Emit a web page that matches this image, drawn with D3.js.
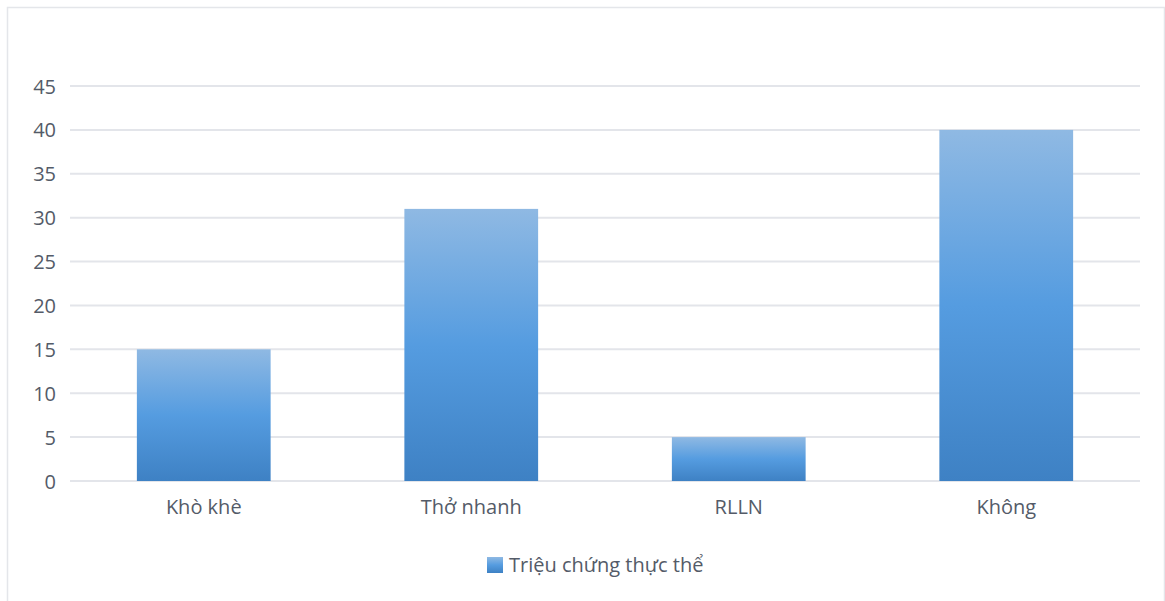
<!DOCTYPE html>
<html><head><meta charset="utf-8">
<script src="https://cdn.jsdelivr.net/npm/d3@7"></script>
<style>body{margin:0;background:#fff}svg{display:block}</style>
</head><body>
<svg id="c" width="1165" height="601"></svg>
<script>
const categories = ["Khò khè", "Thở nhanh", "RLLN", "Không"];
const values = [15, 31, 5, 40];
const yTicks = [0, 5, 10, 15, 20, 25, 30, 35, 40, 45];
const seriesName = "Triệu chứng thực thể";

const svg = d3.select("#c");
const font = "'Open Sans', sans-serif";
const textColor = "#545b68";

// frame
svg.append("path").attr("d", "M7.5,601 V7.5 H1164.5 V601")
  .attr("fill", "none").attr("stroke", "#e4e6ea").attr("stroke-width", 1.5);

const defs = svg.append("defs");
const grad = defs.append("linearGradient").attr("id", "g")
  .attr("x1", 0).attr("y1", 0).attr("x2", 0).attr("y2", 1);
grad.append("stop").attr("offset", "0%").attr("stop-color", "#8fb9e3");
grad.append("stop").attr("offset", "50%").attr("stop-color", "#559ce0");
grad.append("stop").attr("offset", "100%").attr("stop-color", "#3e81c4");

const x = d3.scaleBand().domain(categories).range([70, 1140]).paddingInner(0.5).paddingOuter(0.25);
const y = d3.scaleLinear().domain([0, 45]).range([481, 86]);

// gridlines
svg.append("g").selectAll("line").data(yTicks).join("line")
  .attr("x1", 70).attr("x2", 1140)
  .attr("y1", d => y(d)).attr("y2", d => y(d))
  .attr("stroke", "#e3e5ea").attr("stroke-width", 2);

// y axis labels
const yAxis = d3.axisLeft(y).tickValues(yTicks).tickSize(0).tickPadding(0);
const yg = svg.append("g").attr("transform", "translate(56,0)").call(yAxis);
yg.select(".domain").remove();
yg.selectAll("text").attr("font-family", font).attr("font-size", 20)
  .attr("fill", textColor).attr("text-anchor", "end").attr("dy", "0.35em");

// bars
svg.append("g").selectAll("rect").data(values).join("rect")
  .attr("x", (d, i) => x(categories[i]))
  .attr("width", x.bandwidth())
  .attr("y", d => y(d))
  .attr("height", d => y(0) - y(d))
  .attr("fill", "url(#g)");

// x axis labels
const xAxis = d3.axisBottom(x).tickSize(0).tickPadding(0);
const xg = svg.append("g").attr("transform", "translate(0,500)").call(xAxis);
xg.select(".domain").remove();
xg.selectAll("text").attr("font-family", font).attr("font-size", 20)
  .attr("fill", textColor).attr("dy", "0.71em");

// legend
const lg = svg.append("g").attr("transform", "translate(487,557)");
lg.append("rect").attr("x", 0).attr("y", 0).attr("width", 16).attr("height", 16).attr("fill", "url(#g)");
lg.append("text").attr("x", 22).attr("y", 8).attr("dy", "0.35em")
  .attr("font-family", font).attr("font-size", 20).attr("fill", textColor).text(seriesName);
</script>
</body></html>
